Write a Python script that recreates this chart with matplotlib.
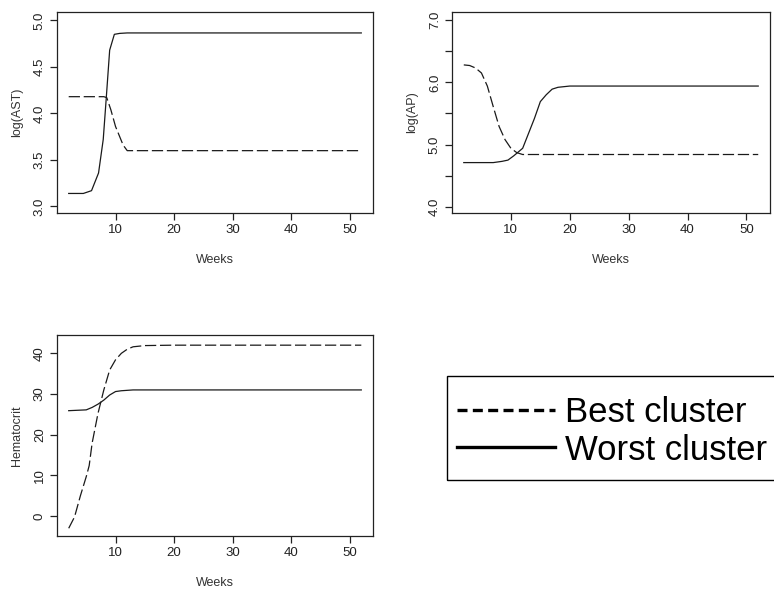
import numpy as np
import matplotlib.pyplot as plt
from matplotlib.lines import Line2D
from matplotlib.patches import Rectangle

plt.rcParams['font.family'] = ['Liberation Sans', 'DejaVu Sans']

# log(AST)
ast_best_x = [2, 4, 6, 8, 8.5, 9.2, 10, 11.3, 12, 14, 20, 30, 40, 52]
ast_best_y = [4.18, 4.18, 4.18, 4.18, 4.17, 4.04, 3.86, 3.66, 3.60, 3.60, 3.60, 3.60, 3.60, 3.60]
ast_worst_x = [2, 4.5, 5.9, 7.1, 7.9, 8.4, 9.0, 9.8, 10.7, 12, 20, 30, 40, 52]
ast_worst_y = [3.14, 3.14, 3.17, 3.36, 3.72, 4.15, 4.68, 4.85, 4.86, 4.865, 4.865, 4.865, 4.865, 4.865]

# log(AP)
ap_best_x = [2, 3, 4, 5, 6, 7, 8, 9, 10, 11, 12, 14, 20, 30, 40, 52]
ap_best_y = [6.28, 6.27, 6.23, 6.15, 5.94, 5.61, 5.29, 5.08, 4.94, 4.87, 4.84, 4.84, 4.84, 4.84, 4.84, 4.84]
ap_worst_x = [2, 7, 8.5, 9.5, 10.5, 12, 13, 14, 15, 16, 17, 18, 20, 30, 40, 52]
ap_worst_y = [4.71, 4.71, 4.73, 4.75, 4.82, 4.94, 5.18, 5.42, 5.69, 5.80, 5.89, 5.92, 5.94, 5.94, 5.94, 5.94]

# Hematocrit
hct_best_x = [2, 3, 4, 5, 5.5, 6, 7, 8, 9, 10, 11, 12, 13, 15, 20, 30, 40, 52]
hct_best_y = [-3.0, -0.2, 5.0, 9.7, 12.4, 17.9, 25.2, 31.0, 35.9, 38.4, 40.0, 41.0, 41.6, 41.9, 42.0, 42.0, 42.0, 42.0]
hct_worst_x = [2, 5, 6, 7, 8, 9, 10, 11, 13, 20, 30, 40, 52]
hct_worst_y = [25.9, 26.1, 26.7, 27.5, 28.5, 29.75, 30.6, 30.8, 31.0, 31.0, 31.0, 31.0, 31.0]

xticks = [10, 20, 30, 40, 50]
W, H = 774, 593

fig = plt.figure(figsize=(7.74, 5.93), dpi=100)

def box(l, t, r, b):
    return [l / W, 1 - b / H, (r - l) / W, (b - t) / H]

dash = (0, (9, 3))
lc = '#1a1a1a'

def panel(rect, bx, by, wx, wy, ylim, yticks, ylabels, ylabel):
    ax = fig.add_axes(rect)
    ax.plot(bx, by, color=lc, lw=0.9, linestyle=dash)
    ax.plot(wx, wy, color=lc, lw=0.9)
    ax.set_xlim(0, 54)
    ax.set_ylim(*ylim)
    ax.set_xticks(xticks)
    ax.set_yticks(yticks)
    ax.set_yticklabels(ylabels, rotation=90, va='center')
    ax.tick_params(direction='out', length=5, width=0.9, labelsize=9.5, colors='#222222', pad=3)
    for s in ax.spines.values():
        s.set_linewidth(0.9)
        s.set_color('#222222')
    ax.set_xlabel('Weeks', fontsize=9, color='#333333', labelpad=13)
    ax.set_ylabel(ylabel, fontsize=9, color='#333333', labelpad=8)
    return ax

panel(box(57, 12, 373, 213), ast_best_x, ast_best_y, ast_worst_x, ast_worst_y,
      (2.93, 5.09), [3.0, 3.5, 4.0, 4.5, 5.0], ['3.0', '3.5', '4.0', '4.5', '5.0'], 'log(AST)')
panel(box(452, 12, 770, 213), ap_best_x, ap_best_y, ap_worst_x, ap_worst_y,
      (3.9, 7.13), [4.0, 4.5, 5.0, 5.5, 6.0, 6.5, 7.0], ['4.0', '', '5.0', '', '6.0', '', '7.0'], 'log(AP)')
panel(box(57, 335, 373, 536), hct_best_x, hct_best_y, hct_worst_x, hct_worst_y,
      (-4.9, 44.5), [0, 10, 20, 30, 40], ['0', '10', '20', '30', '40'], 'Hematocrit')

# legend: frame drawn separately so it runs off the right edge like the original
fig.patches.append(Rectangle((447 / W, 1 - 480 / H), 340 / W, 104 / H,
                             transform=fig.transFigure, fill=False,
                             edgecolor='black', linewidth=1.0))
handles = [Line2D([], [], color='black', lw=2.4, linestyle=(0, (3, 1.6))),
           Line2D([], [], color='black', lw=2.4)]
fig.legend(handles, ['Best cluster', 'Worst cluster'], loc='upper left',
           bbox_to_anchor=(447 / W, 1 - 386 / H), borderaxespad=0,
           fontsize=25, handlelength=2.8, handletextpad=0.3,
           labelspacing=0.12, borderpad=0.3, frameon=False)

fig.savefig('out.png', dpi=100)
